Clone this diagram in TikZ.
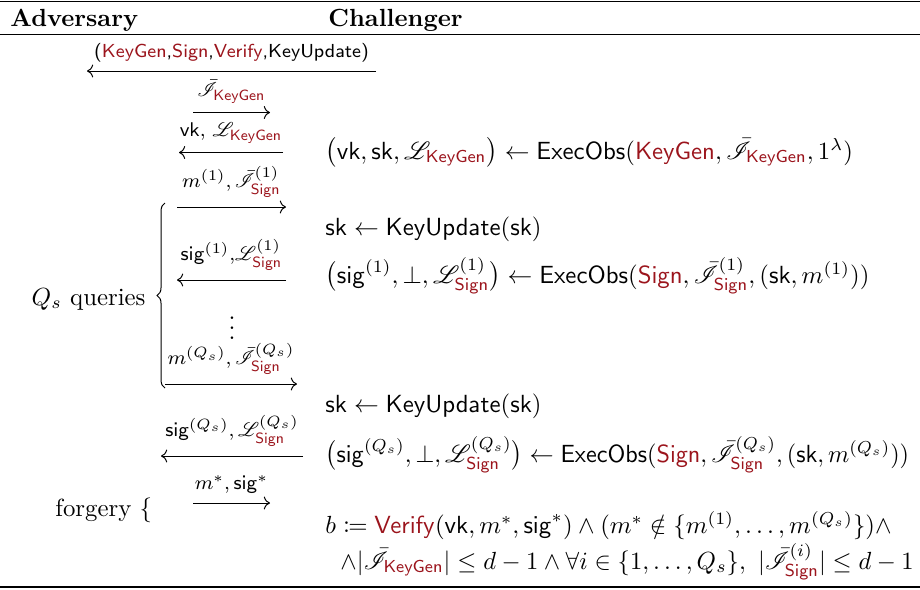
\documentclass[tikz,border=0pt]{standalone}
\usepackage{amsmath,amssymb,mathtools,mathrsfs}
\usepackage{graphicx}
\usepackage{xcolor}
\usepackage{tikz}
\usetikzlibrary{arrows.meta,positioning,decorations.pathreplacing}

\definecolor{algred}{RGB}{155,20,28}
\newcommand{\alg}[1]{\textcolor{algred}{\mathsf{#1}}}
\newcommand{\obsI}{\bar{\mathscr{I}}}
\newcommand{\leakL}{\mathscr{L}}

\begin{document}
\begin{tikzpicture}[x=0.4032pt, y=-0.4032pt, >={Computer Modern Rightarrow},
  msg/.style={->},
  lbl/.style={above, font=\footnotesize, inner sep=3.5pt},
  eq/.style={anchor=base west, inner sep=0pt},
  hdr/.style={anchor=base west, inner sep=0pt, font=\bfseries}]
\useasboundingbox (0,0) rectangle (920,590);
% table rules
\draw[line width=0.8pt] (0,1.5) -- (920,1.5);
\draw[line width=0.5pt] (0,34.5) -- (920,34.5);
\draw[line width=0.8pt] (0,587) -- (920,587);
\node[hdr] (adv) at (10,26) {Adversary};
\node[hdr] (chal) at (328,26) {Challenger};
% messages
\coordinate (a1r) at (376,71);  \coordinate (a1l) at (87,71);
\coordinate (a2l) at (193,112.5); \coordinate (a2r) at (270,112.5);
\coordinate (a3r) at (283,152.5); \coordinate (a3l) at (179,152.5);
\coordinate (a4l) at (177,207); \coordinate (a4r) at (286,207);
\coordinate (a5r) at (286,280); \coordinate (a5l) at (177,280);
\coordinate (a6l) at (165,384); \coordinate (a6r) at (297,384);
\coordinate (a7r) at (303,456); \coordinate (a7l) at (161,456);
\coordinate (a8l) at (193,503); \coordinate (a8r) at (270,503);
\draw[msg] (a1r) -- node[lbl, font=\fontsize{7.6}{9}\selectfont] (l1) {\textsf{(\textcolor{algred}{KeyGen},\textcolor{algred}{Sign},\textcolor{algred}{Verify},KeyUpdate)}} (a1l);
\draw[msg] (a2l) -- node[lbl] (l2) {$\obsI_{\alg{KeyGen}}$} (a2r);
\draw[msg] (a3r) -- node[lbl] (l3) {$\mathsf{vk},\,\leakL_{\alg{KeyGen}}$} (a3l);
\draw[msg] (a4l) -- node[lbl] (l4) {$m^{(1)},\obsI^{(1)}_{\alg{Sign}}$} (a4r);
\draw[msg] (a5r) -- node[lbl] (l5) {$\mathsf{sig}^{(1)},\!\leakL^{(1)}_{\alg{Sign}}$} (a5l);
\draw[msg] (a6l) -- node[lbl] (l6) {$m^{(Q_s)},\obsI^{(Q_s)}_{\alg{Sign}}$} (a6r);
\draw[msg] (a7r) -- node[lbl] (l7) {$\mathsf{sig}^{(Q_s)},\leakL^{(Q_s)}_{\alg{Sign}}$} (a7l);
\draw[msg] (a8l) -- node[lbl] (l8) {$m^*,\mathsf{sig}^*$} (a8r);
\node[anchor=base, inner sep=0pt] (dots) at (232,339.5) {$\vdots$};
% left side
\node[anchor=base east, inner sep=0pt] (qs) at (146,305) {$Q_s$ queries};
\coordinate (br1) at (165,388); \coordinate (br2) at (165,203);
\draw[decorate, decoration={brace, amplitude=3.2pt}] (br1) -- (br2);
\node[anchor=base west, inner sep=0pt] (forg) at (55,516) {forgery $\{$};
% challenger side
\node[eq] (f1) at (325,159) {$\bigl(\mathsf{vk},\mathsf{sk},\leakL_{\alg{KeyGen}}\bigr)\leftarrow\mathsf{ExecObs}(\alg{KeyGen},\obsI_{\alg{KeyGen}},1^{\lambda})$};
\node[eq] (f2) at (325,235) {$\mathsf{sk}\leftarrow\mathsf{KeyUpdate}(\mathsf{sk})$};
\node[eq] (f3) at (325,283) {$\bigl(\mathsf{sig}^{(1)},\bot,\leakL^{(1)}_{\alg{Sign}}\bigr)\leftarrow\mathsf{ExecObs}(\alg{Sign},\obsI^{(1)}_{\alg{Sign}},(\mathsf{sk},m^{(1)}))$};
\node[eq] (f4) at (325,412) {$\mathsf{sk}\leftarrow\mathsf{KeyUpdate}(\mathsf{sk})$};
\node[eq] (f5) at (325,462) {\scalebox{0.975}[1]{$\bigl(\mathsf{sig}^{(Q_s)},\bot,\leakL^{(Q_s)}_{\alg{Sign}}\bigr)\leftarrow\mathsf{ExecObs}(\alg{Sign},\obsI^{(Q_s)}_{\alg{Sign}},(\mathsf{sk},m^{(Q_s)}))$}};
\node[eq] (f6) at (325,533) {$b\coloneqq\alg{Verify}(\mathsf{vk},m^*,\mathsf{sig}^*)\wedge(m^*\notin\{m^{(1)},\dots,m^{(Q_s)}\})\wedge$};
\node[eq] (f7) at (340,569) {\scalebox{0.99}[1]{$\wedge|\obsI_{\alg{KeyGen}}|\le d-1\wedge\forall i\in\{1,\dots,Q_s\},\ |\obsI^{(i)}_{\alg{Sign}}|\le d-1$}};
\end{tikzpicture}
\end{document}
